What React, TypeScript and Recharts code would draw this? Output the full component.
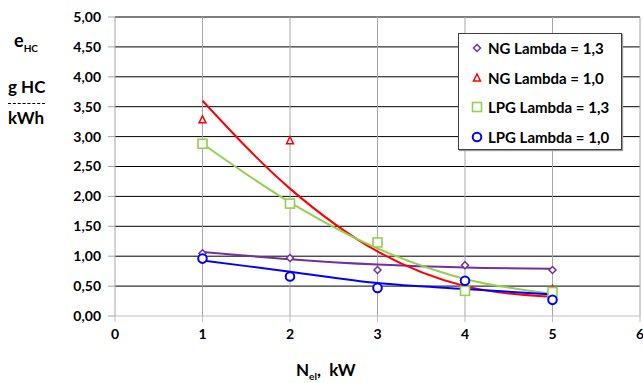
import { ComposedChart, CartesianGrid, XAxis, YAxis, Line, Scatter } from 'recharts'

const nelKw = [1, 2, 3, 4, 5]
const xTicks = [0, 1, 2, 3, 4, 5, 6]
const yTicks = [0, 0.5, 1, 1.5, 2, 2.5, 3, 3.5, 4, 4.5, 5]

// measured points (null = not visible)
const ngLambda13 = [1.05, 0.97, 0.77, 0.85, 0.77]
const ngLambda10 = [3.28, 2.93, null, null, 0.44]
const lpgLambda13 = [2.88, 1.88, 1.23, 0.42, 0.4]
const lpgLambda10 = [0.96, 0.66, 0.47, 0.59, 0.27]

// trend lines
const ngLambda13Trend = [1.07, 0.95, 0.86, 0.81, 0.79]
const ngLambda10Trend = [3.6, 2.13, 1.08, 0.5, 0.32]
const lpgLambda13Trend = [2.88, 1.9, 1.13, 0.62, 0.37]
const lpgLambda10Trend = [0.93, 0.74, 0.55, 0.45, 0.36]

const legendNames = ['NG Lambda = 1,3', 'NG Lambda = 1,0', 'LPG Lambda = 1,3', 'LPG Lambda = 1,0']
const colors = ['#7030a0', '#ff0000', '#92d050', '#0000ff']

const FONT = 'Lato, "Open Sans", sans-serif'

const toPoints = (vals: (number | null)[]) =>
  nelKw.map((x, i) => ({ x, y: vals[i] })).filter((p) => p.y !== null)

const trendRows = nelKw.map((x, i) => ({
  x,
  ng13: ngLambda13Trend[i],
  ng10: ngLambda10Trend[i],
  lpg13: lpgLambda13Trend[i],
  lpg10: lpgLambda10Trend[i],
}))

const Marker = ({ kind, cx, cy }: { kind: number; cx: number; cy: number }) => {
  const c = colors[kind]
  if (kind === 0)
    return <path d={`M${cx},${cy - 3.5}L${cx + 3.5},${cy}L${cx},${cy + 3.5}L${cx - 3.5},${cy}Z`} fill='#fff' stroke={c} strokeWidth={1.5} />
  if (kind === 1)
    return <path d={`M${cx},${cy - 4}L${cx + 3.5},${cy + 3}L${cx - 3.5},${cy + 3}Z`} fill='#fff' stroke={c} strokeWidth={1.5} />
  if (kind === 2) return <rect x={cx - 4.5} y={cy - 4.5} width={9} height={9} fill='#fff' stroke={c} strokeWidth={1.6} />
  return <circle cx={cx} cy={cy} r={4.3} fill='#fff' stroke={c} strokeWidth={2} />
}

const shapeFor = (kind: number) => (p: any) => <Marker kind={kind} cx={p.cx} cy={p.cy} />

const LegendBox = () => (
  <div
    style={{
      position: 'absolute',
      left: 458,
      top: 33,
      width: 162,
      height: 115,
      border: '1px solid #404040',
      background: '#fff',
      boxShadow: '1px 1px 1px #999',
      fontFamily: FONT,
      fontWeight: 700,
      fontSize: 15,
    }}
  >
    {legendNames.map((name, i) => (
      <div key={name} style={{ position: 'absolute', left: 12, top: 4 + i * 29.7, height: 20, display: 'flex', alignItems: 'center', whiteSpace: 'nowrap' }}>
        <svg width={12} height={12} style={{ marginRight: 5 }}>
          <Marker kind={i} cx={6} cy={6} />
        </svg>
        <span>{name}</span>
      </div>
    ))}
  </div>
)

const tickStyle = { fontFamily: FONT, fontWeight: 700, fontSize: 14, fill: '#000' }

export default function App() {
  return (
    <div style={{ position: 'absolute', left: 0, top: 0, width: 643, height: 383, background: '#fff' }}>
      <ComposedChart width={643} height={383} data={trendRows} margin={{ top: 17, right: 3, bottom: 0, left: 0 }}>
        <CartesianGrid vertical={false} stroke='#000' horizontalValues={yTicks.slice(1)} />
        <CartesianGrid horizontal={false} stroke='#a6a6a6' verticalValues={xTicks.slice(1)} />
        <XAxis
          type='number'
          dataKey='x'
          domain={[0, 6]}
          ticks={xTicks}
          interval={0}
          stroke='#bfbfbf'
          tickSize={6}
          tickMargin={7}
          height={67}
          tick={tickStyle}
        />
        <YAxis
          type='number'
          domain={[0, 5]}
          ticks={yTicks}
          interval={0}
          width={115}
          stroke='#a6a6a6'
          tickSize={7}
          tickMargin={7}
          tick={tickStyle}
          tickFormatter={(v: number) => v.toFixed(2).replace('.', ',')}
        />
        <Line dataKey='ng13' type='monotone' stroke={colors[0]} strokeWidth={2} dot={false} isAnimationActive={false} />
        <Line dataKey='ng10' type='monotone' stroke={colors[1]} strokeWidth={2} dot={false} isAnimationActive={false} />
        <Line dataKey='lpg13' type='monotone' stroke={colors[2]} strokeWidth={2} dot={false} isAnimationActive={false} />
        <Line dataKey='lpg10' type='monotone' stroke={colors[3]} strokeWidth={2} dot={false} isAnimationActive={false} />
        <Scatter data={toPoints(ngLambda13)} dataKey='y' shape={shapeFor(0)} isAnimationActive={false} />
        <Scatter data={toPoints(ngLambda10)} dataKey='y' shape={shapeFor(1)} isAnimationActive={false} />
        <Scatter data={toPoints(lpgLambda13)} dataKey='y' shape={shapeFor(2)} isAnimationActive={false} />
        <Scatter data={toPoints(lpgLambda10)} dataKey='y' shape={shapeFor(3)} isAnimationActive={false} />
      </ComposedChart>
      <LegendBox />
      <div style={{ position: 'absolute', left: 14, top: 29, fontFamily: FONT, fontWeight: 700, fontSize: 18 }}>
        e<sub style={{ fontSize: 10 }}>HC</sub>
      </div>
      <div style={{ position: 'absolute', left: 8, top: 76, fontFamily: FONT, fontWeight: 700, fontSize: 17 }}>g HC</div>
      <div style={{ position: 'absolute', left: 8, top: 103, width: 37, borderTop: '1px dashed #000' }} />
      <div style={{ position: 'absolute', left: 8, top: 107, fontFamily: FONT, fontWeight: 700, fontSize: 17 }}>kWh</div>
      <div style={{ position: 'absolute', left: 296, top: 359, fontFamily: FONT, fontWeight: 700, fontSize: 17 }}>
        N<sub style={{ fontSize: 10 }}>el</sub>,&nbsp; kW
      </div>
    </div>
  )
}
